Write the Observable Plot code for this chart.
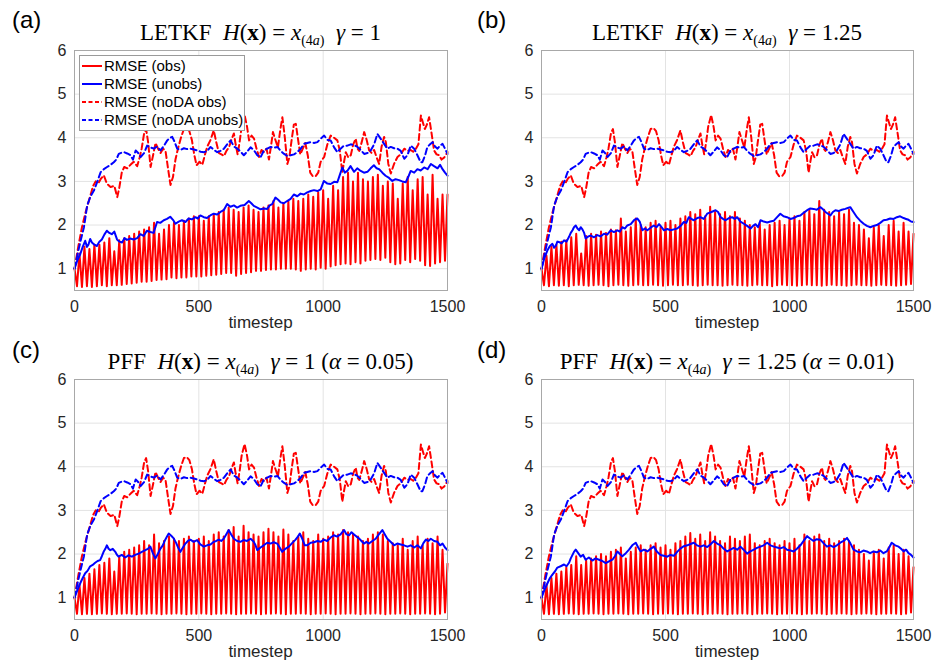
<!DOCTYPE html>
<html><head><meta charset="utf-8">
<script src="https://cdn.jsdelivr.net/npm/d3@7"></script>
<script src="https://cdn.jsdelivr.net/npm/@observablehq/plot@0.6"></script>
<style>
body{margin:0;background:#fff;}
#root{position:relative;width:944px;height:662px;overflow:hidden;background:#fff;font-family:"Liberation Sans",Arial,sans-serif;color:#262626;}
.abs{position:absolute;}
.plab{font-size:24px;color:#000;line-height:28px;}
.ttl{font-family:"Liberation Serif","Times New Roman",serif;font-size:23px;line-height:26px;color:#000;text-align:center;white-space:nowrap;}
.ttl sub{font-size:14px;vertical-align:-5px;line-height:0;}
.xl{font-size:17px;color:#262626;text-align:center;}
.leg{background:#fff;border:1px solid #9a9a9a;font-size:15px;color:#000;}
.leg .row{position:absolute;left:0;height:18px;line-height:18px;white-space:nowrap;}
</style></head><body><div id="root"></div>
<script>
// ---------- data ----------
const timestepTicks = [0, 500, 1000, 1500];
const rmseTicks = [1, 2, 3, 4, 5, 6];
const seriesNames = ["RMSE (obs)", "RMSE (unobs)", "RMSE (noDA obs)", "RMSE (noDA unobs)"];
const panelLabels = ["(a)", "(b)", "(c)", "(d)"];
const cycleLength = 20; // observation cycle (timesteps)

// noDA curves (identical in all four panels): [timestep, RMSE]
const noDAobs = [[0,1.0],[15,1.5],[30,1.95],[45,2.3],[60,2.6],[75,2.9],[85,3.0],[95,2.95],[105,3.05],[118,3.14],[130,2.95],[145,2.87],[160,2.9],[172,2.64],[180,2.85],[190,3.2],[200,3.33],[212,3.3],[225,3.38],[238,3.45],[252,3.35],[262,3.55],[270,3.75],[280,4.1],[288,4.2],[296,3.9],[306,3.33],[316,3.6],[326,3.88],[336,3.75],[346,3.65],[356,3.75],[366,3.7],[376,3.3],[386,2.92],[396,3.1],[406,3.5],[416,3.75],[428,4.0],[440,4.2],[452,4.22],[462,4.15],[472,3.95],[482,3.6],[491,3.37],[503,3.45],[514,3.38],[524,3.6],[534,3.8],[547,3.95],[560,4.17],[570,3.9],[581,3.65],[591,3.62],[601,3.58],[611,3.7],[621,3.78],[631,3.95],[641,4.1],[648,3.85],[656,3.62],[664,3.9],[672,4.25],[684,4.52],[694,4.25],[702,3.94],[712,4.05],[722,3.98],[732,3.75],[742,3.56],[752,3.72],[762,3.67],[772,3.75],[782,3.5],[790,3.8],[798,4.13],[808,3.95],[818,3.78],[828,4.2],[836,4.47],[846,4.0],[856,3.4],[864,3.55],[872,3.9],[882,4.3],[890,4.32],[898,4.0],[908,3.62],[918,3.75],[928,3.88],[938,3.6],[948,3.2],[958,3.12],[970,3.12],[980,3.2],[990,3.45],[1004,3.56],[1017,3.85],[1030,4.05],[1044,4.0],[1057,3.94],[1067,3.7],[1077,3.2],[1084,3.45],[1091,3.67],[1101,3.55],[1111,3.6],[1121,3.85],[1131,3.98],[1138,3.75],[1145,3.7],[1155,3.9],[1165,4.13],[1175,3.95],[1185,3.71],[1195,3.65],[1205,3.72],[1215,3.55],[1225,3.4],[1235,3.8],[1245,4.02],[1252,3.9],[1262,3.4],[1272,3.18],[1285,3.4],[1299,3.56],[1312,3.62],[1326,3.75],[1339,3.7],[1352,3.72],[1362,3.68],[1373,3.75],[1383,3.85],[1393,4.51],[1401,4.35],[1409,4.2],[1417,4.3],[1426,4.47],[1436,4.1],[1446,3.71],[1456,3.62],[1466,3.6],[1476,3.5],[1487,3.55],[1500,3.67]];
const noDAunobs = [[0,1.0],[15,1.4],[25,1.65],[38,1.95],[51,2.45],[64,2.65],[78,2.79],[92,3.0],[105,3.21],[118,3.28],[131,3.33],[145,3.38],[158,3.44],[168,3.5],[178,3.63],[190,3.66],[199,3.67],[212,3.64],[225,3.6],[235,3.5],[246,3.71],[256,3.65],[266,3.56],[280,3.65],[292,3.82],[305,3.78],[319,3.75],[332,3.8],[346,3.71],[360,3.82],[373,3.94],[385,4.0],[393,4.02],[403,3.9],[413,3.75],[426,3.72],[440,3.76],[453,3.74],[467,3.75],[480,3.73],[494,3.71],[507,3.68],[521,3.67],[534,3.7],[547,3.79],[561,3.72],[574,3.67],[587,3.7],[601,3.75],[614,3.85],[628,3.94],[641,3.8],[655,3.75],[668,3.68],[681,3.6],[694,3.68],[708,3.78],[721,3.72],[735,3.6],[748,3.55],[762,3.71],[775,3.75],[789,3.79],[802,3.77],[816,3.79],[829,3.7],[843,3.63],[856,3.58],[869,3.6],[883,3.62],[896,3.67],[910,3.75],[923,3.86],[936,3.88],[950,3.9],[963,3.88],[977,3.9],[990,3.98],[1004,4.05],[1017,3.95],[1030,3.94],[1044,3.78],[1057,3.67],[1070,3.75],[1084,3.82],[1097,3.82],[1111,3.85],[1124,3.83],[1138,3.79],[1151,3.72],[1165,3.63],[1178,3.65],[1191,3.71],[1205,3.85],[1218,4.09],[1231,3.98],[1245,3.86],[1258,3.75],[1272,3.79],[1285,3.76],[1299,3.75],[1312,3.7],[1326,3.52],[1339,3.6],[1352,3.82],[1366,3.75],[1379,3.6],[1392,3.44],[1399,3.44],[1410,3.6],[1419,3.79],[1430,3.85],[1440,3.9],[1450,3.8],[1460,3.75],[1470,3.82],[1480,3.86],[1490,3.75],[1500,3.63]];

// RMSE (unobs) per panel: [timestep, RMSE]
const unobsA = [[0,1.0],[12,1.2],[23,1.33],[33,1.5],[43,1.64],[50,1.5],[56,1.55],[63,1.68],[70,1.6],[80,1.55],[90,1.52],[100,1.62],[110,1.67],[120,1.78],[130,1.87],[140,1.82],[150,1.79],[160,1.85],[171,1.67],[181,1.62],[191,1.6],[201,1.7],[211,1.66],[224,1.69],[238,1.67],[252,1.7],[265,1.79],[278,1.75],[291,1.87],[305,1.84],[318,1.82],[332,2.07],[345,2.05],[359,2.11],[372,2.14],[385,2.19],[396,2.12],[406,2.03],[419,2.08],[432,2.11],[446,2.07],[459,2.15],[472,2.13],[486,2.18],[496,2.15],[506,2.22],[520,2.18],[533,2.16],[546,2.22],[560,2.26],[574,2.24],[587,2.3],[600,2.34],[614,2.48],[627,2.42],[641,2.45],[654,2.4],[667,2.44],[684,2.46],[701,2.55],[711,2.5],[721,2.44],[735,2.4],[748,2.36],[762,2.38],[775,2.37],[785,2.45],[795,2.48],[808,2.63],[819,2.58],[829,2.52],[842,2.5],[855,2.55],[869,2.6],[882,2.7],[896,2.66],[909,2.72],[922,2.7],[936,2.75],[950,2.78],[963,2.8],[977,2.78],[990,2.82],[1003,3.01],[1017,2.95],[1030,2.94],[1044,2.99],[1057,2.98],[1067,3.15],[1077,3.32],[1087,3.2],[1097,3.24],[1110,3.35],[1124,3.22],[1137,3.3],[1151,3.24],[1164,3.2],[1178,3.22],[1191,3.3],[1204,3.37],[1215,3.3],[1225,3.28],[1238,3.2],[1251,3.13],[1265,3.08],[1278,3.01],[1291,3.05],[1305,3.03],[1318,3.0],[1332,2.98],[1342,3.1],[1352,3.24],[1366,3.2],[1379,3.28],[1392,3.25],[1406,3.32],[1420,3.28],[1433,3.4],[1446,3.35],[1460,3.3],[1470,3.38],[1480,3.28],[1490,3.2],[1500,3.13]];
const unobsB = [[0,1.0],[12,1.25],[24,1.42],[34,1.52],[44,1.57],[51,1.48],[58,1.53],[64,1.62],[71,1.61],[81,1.58],[91,1.65],[101,1.62],[111,1.73],[118,1.82],[125,1.88],[131,1.95],[138,1.99],[145,1.92],[152,1.88],[158,1.95],[165,1.9],[172,1.82],[178,1.69],[189,1.74],[199,1.76],[212,1.72],[225,1.77],[238,1.74],[252,1.8],[265,1.78],[279,1.88],[292,1.84],[306,1.88],[316,1.85],[326,1.95],[336,1.92],[346,1.99],[360,2.02],[373,2.11],[386,2.15],[396,2.08],[407,1.88],[417,1.92],[427,1.88],[440,1.94],[453,1.99],[464,1.95],[474,2.02],[484,1.95],[494,1.88],[507,1.91],[521,1.88],[534,1.9],[547,1.92],[561,1.98],[574,2.07],[584,2.05],[594,2.18],[604,2.14],[614,2.11],[628,2.16],[641,2.18],[654,2.14],[668,2.26],[685,2.3],[702,2.34],[712,2.3],[722,2.18],[732,2.14],[742,2.11],[756,2.16],[769,2.18],[779,2.14],[789,2.18],[802,2.08],[816,2.03],[829,1.98],[843,1.92],[853,1.98],[863,2.02],[873,1.95],[883,2.11],[896,2.08],[910,2.06],[923,2.08],[937,2.1],[950,2.18],[963,2.26],[976,2.2],[990,2.18],[1004,2.14],[1017,2.16],[1030,2.2],[1044,2.22],[1057,2.28],[1071,2.34],[1084,2.38],[1097,2.37],[1110,2.35],[1124,2.41],[1135,2.36],[1145,2.3],[1155,2.26],[1165,2.22],[1175,2.3],[1185,2.34],[1198,2.32],[1211,2.35],[1225,2.37],[1235,2.39],[1245,2.41],[1258,2.3],[1272,2.18],[1285,2.1],[1299,2.03],[1312,1.98],[1326,1.95],[1339,1.98],[1352,2.0],[1366,2.05],[1379,2.11],[1392,2.12],[1406,2.15],[1420,2.14],[1433,2.18],[1446,2.2],[1460,2.16],[1470,2.14],[1480,2.12],[1490,2.08],[1500,2.07]];
const unobsC = [[0,1.0],[12,1.18],[23,1.33],[33,1.45],[43,1.56],[53,1.62],[63,1.72],[73,1.75],[83,1.8],[93,1.84],[103,1.86],[110,1.95],[117,2.05],[124,2.12],[130,2.2],[137,2.12],[144,2.09],[154,2.12],[164,2.05],[171,1.98],[177,1.94],[190,1.98],[204,1.92],[217,1.97],[231,1.94],[244,1.98],[258,2.01],[271,2.05],[285,2.09],[295,2.12],[305,2.17],[315,2.02],[325,1.9],[335,2.0],[345,2.12],[355,2.2],[365,2.33],[372,2.4],[379,2.47],[389,2.42],[399,2.36],[409,2.25],[419,2.12],[426,2.05],[436,2.15],[446,2.24],[456,2.3],[466,2.33],[479,2.28],[493,2.32],[506,2.22],[520,2.17],[533,2.2],[547,2.22],[560,2.28],[570,2.3],[580,2.33],[590,2.3],[600,2.35],[610,2.45],[620,2.55],[630,2.45],[641,2.35],[654,2.3],[667,2.28],[680,2.32],[694,2.3],[708,2.35],[721,2.28],[728,2.2],[735,2.09],[748,2.15],[761,2.2],[775,2.26],[788,2.24],[801,2.27],[815,2.24],[825,2.15],[835,2.05],[848,2.12],[862,2.17],[875,2.25],[889,2.33],[896,2.38],[906,2.47],[916,2.35],[926,2.2],[936,2.2],[950,2.26],[963,2.27],[977,2.3],[990,2.28],[1003,2.33],[1016,2.3],[1030,2.38],[1043,2.43],[1056,2.4],[1070,2.45],[1077,2.5],[1084,2.55],[1094,2.45],[1104,2.43],[1114,2.5],[1124,2.45],[1134,2.4],[1144,2.36],[1154,2.3],[1164,2.24],[1174,2.28],[1184,2.24],[1198,2.3],[1211,2.35],[1224,2.45],[1238,2.55],[1248,2.45],[1258,2.35],[1271,2.28],[1285,2.2],[1298,2.24],[1312,2.22],[1325,2.2],[1339,2.17],[1352,2.2],[1366,2.15],[1379,2.2],[1393,2.13],[1403,2.25],[1413,2.33],[1423,2.3],[1433,2.35],[1446,2.3],[1460,2.28],[1470,2.2],[1480,2.24],[1490,2.15],[1500,2.09]];
const unobsD = [[0,1.0],[12,1.18],[24,1.33],[34,1.45],[44,1.53],[54,1.6],[64,1.69],[77,1.72],[91,1.76],[101,1.72],[111,1.8],[118,1.9],[125,1.98],[131,2.05],[138,2.1],[148,2.02],[158,1.94],[168,1.98],[178,1.87],[191,1.92],[205,1.85],[218,1.9],[232,1.87],[245,1.84],[259,1.79],[272,1.83],[286,1.87],[296,1.95],[306,2.06],[316,2.0],[326,1.95],[340,2.02],[353,2.1],[366,2.2],[380,2.26],[390,2.15],[400,2.06],[413,2.1],[427,2.06],[440,2.12],[453,2.17],[466,2.05],[480,1.98],[493,1.96],[507,1.94],[520,1.98],[534,1.96],[547,2.05],[561,2.13],[574,2.18],[588,2.2],[601,2.23],[614,2.26],[627,2.2],[641,2.17],[654,2.2],[668,2.16],[681,2.22],[695,2.3],[708,2.24],[722,2.2],[735,2.12],[749,2.06],[762,2.1],[775,2.14],[789,2.1],[802,2.17],[815,2.1],[829,2.01],[842,2.06],[856,2.1],[869,2.14],[883,2.17],[896,2.2],[910,2.26],[923,2.2],[937,2.17],[950,2.15],[963,2.13],[977,2.16],[990,2.1],[1004,2.08],[1017,2.06],[1030,2.12],[1044,2.2],[1057,2.3],[1071,2.41],[1084,2.35],[1097,2.3],[1110,2.34],[1124,2.33],[1137,2.25],[1151,2.17],[1164,2.2],[1178,2.16],[1191,2.2],[1205,2.26],[1218,2.3],[1232,2.37],[1245,2.25],[1258,2.1],[1272,2.06],[1285,2.04],[1298,2.08],[1312,2.06],[1325,2.02],[1339,2.06],[1352,2.04],[1366,2.08],[1379,2.02],[1392,2.06],[1402,2.15],[1412,2.26],[1426,2.2],[1440,2.17],[1450,2.12],[1460,2.06],[1470,2.1],[1480,2.02],[1490,1.98],[1500,1.92]];

// RMSE (obs): forecast peak and analysis trough of each observation cycle (75 cycles)
const obsPeaksA = [1.35,1.5,1.45,1.55,1.55,1.6,1.7,1.4,1.65,1.7,1.75,1.8,1.85,1.9,1.95,2.05,1.8,1.9,2.0,2.05,2.0,2.1,2.15,2.2,2.2,2.1,2.2,2.25,2.3,2.35,2.4,2.35,2.3,2.4,2.45,2.35,2.3,2.4,2.45,2.55,2.4,2.5,2.55,2.6,2.55,2.6,2.7,2.65,2.75,2.8,2.6,2.9,2.8,3.1,3.2,3.0,3.2,3.05,3.0,3.1,3.15,2.9,3.0,2.95,2.6,2.95,3.1,2.8,3.05,3.1,2.7,3.15,2.6,2.7,2.7];
const obsTroughsA = [0.6,0.58,0.6,0.58,0.6,0.62,0.6,0.62,0.62,0.63,0.65,0.66,0.68,0.7,0.7,0.72,0.74,0.75,0.76,0.8,0.78,0.8,0.8,0.82,0.82,0.82,0.84,0.85,0.86,0.88,0.9,0.9,0.84,0.88,0.9,0.92,0.95,0.95,0.97,0.98,0.98,1.0,1.0,1.0,0.98,0.95,0.98,1.0,0.98,1.02,1.0,1.05,1.08,1.1,1.12,1.1,1.15,1.12,1.18,1.2,1.22,1.2,1.25,1.15,1.1,1.12,1.2,1.15,1.22,1.18,1.08,1.06,1.12,1.15,1.18];
const obsPeaksB = [1.3,1.5,1.55,1.62,1.65,1.72,1.8,1.35,1.75,1.8,1.78,1.85,1.82,1.9,1.88,2.15,1.85,1.95,2.15,2.0,1.95,2.05,2.1,1.95,2.05,2.1,2.0,2.15,2.2,2.3,2.25,2.35,2.2,2.42,2.3,2.25,2.3,2.2,2.3,2.15,2.1,2.0,1.95,2.05,1.9,2.0,2.05,2.1,2.0,2.15,2.2,2.1,2.3,2.35,2.25,2.55,2.35,2.3,2.2,2.3,2.25,2.35,2.05,2.0,1.9,1.7,1.95,2.0,1.75,2.0,2.1,1.85,2.05,1.85,1.8];
const obsTroughsB = [0.62,0.6,0.62,0.61,0.62,0.6,0.62,0.63,0.62,0.61,0.62,0.63,0.62,0.6,0.62,0.63,0.62,0.61,0.62,0.63,0.62,0.62,0.63,0.62,0.61,0.62,0.63,0.62,0.62,0.63,0.62,0.61,0.62,0.63,0.62,0.62,0.61,0.62,0.63,0.62,0.62,0.61,0.62,0.63,0.62,0.62,0.6,0.62,0.63,0.62,0.62,0.61,0.62,0.63,0.62,0.62,0.61,0.62,0.63,0.62,0.62,0.61,0.62,0.63,0.62,0.62,0.61,0.62,0.63,0.62,0.62,0.61,0.62,0.63,0.65];
const obsPeaksC = [1.3,1.45,1.55,1.65,1.75,1.8,1.9,1.6,1.95,2.05,2.1,2.15,2.2,2.3,2.2,2.45,2.25,2.3,2.4,2.35,2.3,2.35,2.4,2.3,2.35,2.4,2.3,2.45,2.5,2.4,2.55,2.62,2.4,2.65,2.5,2.45,2.4,2.5,2.58,2.5,2.4,2.56,2.45,2.3,2.4,2.5,2.35,2.3,2.45,2.35,2.4,2.5,2.45,2.55,2.5,2.45,2.4,2.3,2.35,2.45,2.5,2.45,2.3,2.25,2.2,2.35,2.1,2.3,2.4,2.2,2.35,2.25,2.4,2.1,1.78];
const obsTroughsC = [0.63,0.62,0.63,0.62,0.63,0.64,0.63,0.62,0.63,0.63,0.64,0.63,0.62,0.63,0.63,0.64,0.63,0.62,0.63,0.63,0.64,0.63,0.62,0.63,0.63,0.64,0.63,0.62,0.63,0.63,0.64,0.63,0.62,0.63,0.63,0.64,0.63,0.62,0.63,0.63,0.64,0.63,0.62,0.63,0.63,0.64,0.63,0.62,0.63,0.63,0.64,0.63,0.62,0.63,0.63,0.64,0.63,0.62,0.63,0.63,0.64,0.63,0.62,0.63,0.63,0.64,0.63,0.62,0.63,0.63,0.64,0.63,0.62,0.63,0.66];
const obsPeaksD = [1.3,1.45,1.55,1.6,1.7,1.75,1.95,1.75,1.85,1.9,1.95,2.0,1.95,2.05,2.1,2.15,1.9,2.05,2.15,2.2,2.1,2.2,2.25,2.15,2.2,2.1,2.25,2.3,2.4,2.48,2.35,2.45,2.3,2.5,2.4,2.3,2.25,2.4,2.35,2.3,2.4,2.45,2.25,2.2,2.3,2.35,2.25,2.2,2.3,2.25,2.35,2.2,2.45,2.3,2.4,2.45,2.3,2.35,2.25,2.3,2.35,2.3,2.2,2.1,2.0,1.85,2.05,2.1,1.9,2.15,2.2,2.0,2.1,1.95,1.7];
const obsTroughsD = [0.63,0.62,0.63,0.62,0.63,0.64,0.63,0.62,0.63,0.63,0.64,0.63,0.62,0.63,0.63,0.64,0.63,0.62,0.63,0.63,0.64,0.63,0.62,0.63,0.63,0.64,0.63,0.62,0.63,0.63,0.64,0.63,0.62,0.63,0.63,0.64,0.63,0.62,0.63,0.63,0.64,0.63,0.62,0.63,0.63,0.64,0.63,0.62,0.63,0.63,0.64,0.63,0.62,0.63,0.63,0.64,0.63,0.62,0.63,0.63,0.64,0.63,0.62,0.63,0.63,0.64,0.63,0.62,0.63,0.63,0.64,0.63,0.62,0.63,0.66];

const titles = [
  'LETKF&nbsp; <i>H</i>(<b>x</b>) = <i>x</i><sub>(4<i>a</i>)</sub>&nbsp; <i>γ</i> = 1',
  'LETKF&nbsp; <i>H</i>(<b>x</b>) = <i>x</i><sub>(4<i>a</i>)</sub>&nbsp; <i>γ</i> = 1.25',
  'PFF&nbsp; <i>H</i>(<b>x</b>) = <i>x</i><sub>(4<i>a</i>)</sub>&nbsp; <i>γ</i> = 1 (<i>α</i> = 0.05)',
  'PFF&nbsp; <i>H</i>(<b>x</b>) = <i>x</i><sub>(4<i>a</i>)</sub>&nbsp; <i>γ</i> = 1.25 (<i>α</i> = 0.01)'
];
const unobsSeries = [unobsA, unobsB, unobsC, unobsD];
const obsPeaks = [obsPeaksA, obsPeaksB, obsPeaksC, obsPeaksD];
const obsTroughs = [obsTroughsA, obsTroughsB, obsTroughsC, obsTroughsD];

// ---------- layout ----------
const panels = [
  {left:0,   top:0,   w:470, h:340, ml:74, mr:23, mt:50, mb:50},
  {left:470, top:0,   w:474, h:340, ml:71, mr:31, mt:50, mb:50},
  {left:0,   top:330, w:470, h:332, ml:74, mr:23, mt:49, mb:43},
  {left:470, top:330, w:474, h:332, ml:71, mr:31, mt:49, mb:43}
];
const RED = "#ff0000", BLUE = "#0000ff";
const root = document.getElementById("root");

function obsLine(peaks, troughs) {
  const pts = [{t: 0, v: 1.0}];
  peaks.forEach((p, k) => {
    pts.push({t: k * cycleLength + cycleLength / 2, v: troughs[k]});
    pts.push({t: (k + 1) * cycleLength, v: p});
  });
  return pts;
}
const toObj = arr => arr.map(([t, v]) => ({t, v}));

panels.forEach((P, i) => {
  const obs = obsLine(obsPeaks[i], obsTroughs[i]);
  const plot = Plot.plot({
    width: P.w, height: P.h,
    marginLeft: P.ml, marginRight: P.mr, marginTop: P.mt, marginBottom: P.mb,
    style: {fontSize: "15px", fontFamily: "'Liberation Sans', Arial, sans-serif", color: "#262626", background: "transparent", overflow: "visible"},
    x: {domain: [0, 1500], ticks: timestepTicks, label: null},
    y: {domain: [0.5, 6], ticks: rmseTicks, label: null},
    marks: [
      Plot.gridX(timestepTicks, {stroke: "#e3e3e3", strokeOpacity: 1}),
      Plot.gridY(rmseTicks, {stroke: "#e3e3e3", strokeOpacity: 1}),
      Plot.axisX(timestepTicks, {tickSize: 0, tickPadding: 10, fontSize: 16, tickFormat: d3.format("d")}),
      Plot.axisY(rmseTicks, {tickSize: 0, tickPadding: 8, fontSize: 16, tickFormat: d3.format("d")}),
      Plot.line(obs, {x: "t", y: "v", stroke: RED, strokeWidth: 2}),
      Plot.line(toObj(noDAobs), {x: "t", y: "v", stroke: RED, strokeWidth: 2, strokeDasharray: "6,3.5"}),
      Plot.line(toObj(noDAunobs), {x: "t", y: "v", stroke: BLUE, strokeWidth: 2, strokeDasharray: "6,3.5"}),
      Plot.line(toObj(unobsSeries[i]), {x: "t", y: "v", stroke: BLUE, strokeWidth: 2}),
      Plot.frame({stroke: "#a8a8a8", strokeWidth: 1})
    ]
  });
  plot.classList.add("abs");
  plot.style.left = P.left + "px";
  plot.style.top = P.top + "px";
  root.appendChild(plot);

  const cx = P.left + P.ml + (P.w - P.ml - P.mr) / 2;
  const ttl = document.createElement("div");
  ttl.className = "abs ttl";
  ttl.innerHTML = titles[i];
  ttl.style.left = (cx - 200) + "px";
  ttl.style.width = "400px";
  ttl.style.top = (P.top + P.mt - 30) + "px";
  root.appendChild(ttl);

  const xl = document.createElement("div");
  xl.className = "abs xl";
  xl.textContent = "timestep";
  xl.style.left = (cx - 60) + "px";
  xl.style.width = "120px";
  xl.style.top = (P.top + P.h - P.mb + 23) + "px";
  root.appendChild(xl);

  const lab = document.createElement("div");
  lab.className = "abs plab";
  lab.textContent = panelLabels[i];
  lab.style.left = (P.left + (i % 2 ? 7 : 12)) + "px";
  lab.style.top = (P.top + 6) + "px";
  root.appendChild(lab);
});

// legend in panel (a)
const leg = document.createElement("div");
leg.className = "abs leg";
Object.assign(leg.style, {left: "79px", top: "55px", width: "164px", height: "74px"});
const legStyles = [
  {c: RED, d: null}, {c: BLUE, d: null}, {c: RED, d: "4,2.5"}, {c: BLUE, d: "4,2.5"}
];
seriesNames.forEach((name, k) => {
  const row = document.createElement("div");
  row.className = "row";
  row.style.top = (1 + k * 18) + "px";
  row.innerHTML = `<svg width="22" height="18" style="vertical-align:top"><line x1="2" x2="22" y1="9" y2="9" stroke="${legStyles[k].c}" stroke-width="2" ${legStyles[k].d ? `stroke-dasharray="${legStyles[k].d}"` : ""}/></svg><span style="margin-left:2px">${name}</span>`;
  leg.appendChild(row);
});
root.appendChild(leg);
</script></body></html>
